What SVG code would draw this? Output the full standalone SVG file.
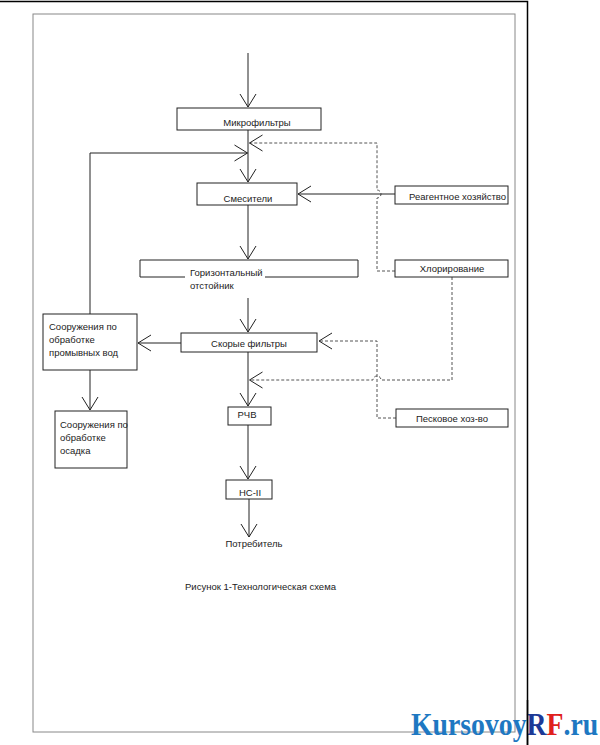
<svg xmlns="http://www.w3.org/2000/svg" width="600" height="745" viewBox="0 0 600 745">
<style>
.box{fill:#fff;stroke:#222;stroke-width:1}
.t{font-family:"Liberation Sans",Arial,sans-serif;font-size:9.5px;fill:#222}
.c{text-anchor:middle}
.ln{fill:none;stroke:#222;stroke-width:1}
.ds{fill:none;stroke:#555;stroke-width:1;stroke-dasharray:3,2}
.wm{font-family:"Liberation Serif",serif;font-size:31px;font-weight:bold}
</style>
<defs>
<marker id="a" markerUnits="userSpaceOnUse" markerWidth="16" markerHeight="20" viewBox="-14 -10 16 20" refX="0" refY="0" orient="auto">
<path d="M-13,-8 L0,0 L-13,8" fill="none" stroke="#222" stroke-width="1"/>
</marker>
</defs>
<rect width="600" height="745" fill="#fff"/>
<rect x="33" y="14" width="482" height="718" fill="none" stroke="#888" stroke-width="1"/>
<path d="M0,1.5 H527.5 V745" fill="none" stroke="#000" stroke-width="1.5"/>

<g id="connectors">
<path class="ln" d="M248,53 V107" marker-end="url(#a)"/>
<path class="ln" d="M248,130 V182" marker-end="url(#a)"/>
<path class="ds" d="M395,271 H377 V198 A4,4 0 0 0 377,190 V143 H249.5" marker-end="url(#a)"/>
<path class="ln" d="M90,314 V153 H247.5" marker-end="url(#a)"/>
<path class="ln" d="M395,194 H298" marker-end="url(#a)"/>
<path class="ln" d="M248,205 V259" marker-end="url(#a)"/>
<path class="ln" d="M248,298 V332" marker-end="url(#a)"/>
<path class="ln" d="M181,343 H138" marker-end="url(#a)"/>
<path class="ln" d="M90,370 V410" marker-end="url(#a)"/>
<path class="ds" d="M396,418 H377 V341 H319" marker-end="url(#a)"/>
<path class="ds" d="M452,277 V380 H381 A4,4 0 0 0 373,380 H249.5" marker-end="url(#a)"/>
<path class="ln" d="M248,352 V406" marker-end="url(#a)"/>
<path class="ln" d="M248,425 V479" marker-end="url(#a)"/>
<path class="ln" d="M249,499 V537" marker-end="url(#a)"/>
</g>

<g id="microfilters">
<rect class="box" x="177" y="108" width="144" height="22"/>
<text class="t c" x="257" y="126">Микрофильтры</text>
</g>
<g id="mixers">
<rect class="box" x="197" y="183" width="100" height="22"/>
<text class="t c" x="248" y="202">Смесители</text>
</g>
<g id="reagent">
<rect class="box" x="395" y="186" width="113" height="18"/>
<text class="t" x="409" y="200">Реагентное хозяйство</text>
</g>
<g id="settler">
<rect x="140" y="260" width="218" height="17" fill="#fff"/>
<path class="ln" d="M185,277 H140 V260 H358 V277 H265"/>
<text class="t" x="190" y="276">Горизонтальный</text>
<text class="t" x="190" y="289">отстойник</text>
</g>
<g id="chlorination">
<rect class="box" x="395" y="260" width="113" height="17"/>
<text class="t c" x="452" y="272">Хлорирование</text>
</g>
<g id="rapid-filters">
<rect class="box" x="181" y="333" width="136" height="19"/>
<text class="t c" x="249" y="347">Скорые фильтры</text>
</g>
<g id="wash-water">
<rect class="box" x="43" y="314" width="94" height="56"/>
<text class="t" x="49" y="330">Сооружения по</text>
<text class="t" x="49" y="343">обработке</text>
<text class="t" x="49" y="356">промывных вод</text>
</g>
<g id="sediment">
<rect class="box" x="55" y="411" width="72" height="57"/>
<text class="t" x="60" y="428">Сооружения по</text>
<text class="t" x="60" y="441"> обработке</text>
<text class="t" x="60" y="454">осадка</text>
</g>
<g id="sand">
<rect class="box" x="396" y="409" width="112" height="18"/>
<text class="t c" x="452" y="422">Песковое хоз-во</text>
</g>
<g id="rchv">
<rect class="box" x="228" y="407" width="43" height="18"/>
<text class="t c" x="247" y="418">РЧВ</text>
</g>
<g id="ns2">
<rect class="box" x="226" y="480" width="46" height="19"/>
<text class="t c" x="250" y="496">НС-II</text>
</g>
<g id="consumer">
<text class="t c" x="254" y="547">Потребитель</text>
</g>
<text class="t" x="185" y="590">Рисунок 1-Технологическая схема</text>

<g id="watermark" transform="translate(411,735) scale(0.895,1)">
<text class="wm" x="0" y="0"><tspan fill="#1e78c2">Kursovoy</tspan><tspan fill="#1d3a96">R</tspan><tspan fill="#e0201c">F</tspan><tspan fill="#1e78c2">.ru</tspan></text>
</g>
<path d="M527.5,700 V745" stroke="#000" stroke-width="1.5"/>
</svg>
